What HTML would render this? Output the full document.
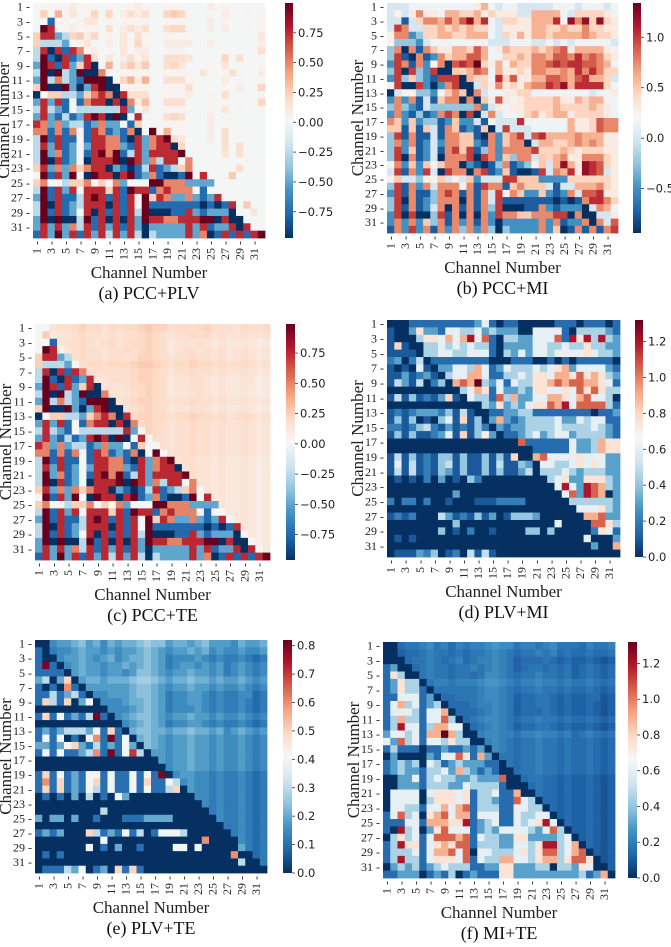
<!DOCTYPE html>
<html><head><meta charset="utf-8">
<style>
html,body{margin:0;padding:0;background:#fff;}
svg{display:block;}
.tk{font-family:"Liberation Serif",serif;font-size:12px;fill:#222;}
.cb{font-family:"DejaVu Sans","Liberation Sans",sans-serif;font-size:11.5px;fill:#222;}
.ttl{font-family:"Liberation Serif",serif;font-size:17px;fill:#222;}
.cap{font-family:"Liberation Serif",serif;font-size:18px;fill:#111;}
</style></head>
<body>
<svg id="fig" width="671" height="947" viewBox="0 0 671 947" xmlns="http://www.w3.org/2000/svg">
<defs>
<linearGradient id="rdbu" x1="0" y1="1" x2="0" y2="0">
<stop offset="0" stop-color="#053061"/><stop offset="0.1" stop-color="#2166ac"/><stop offset="0.2" stop-color="#4393c3"/><stop offset="0.3" stop-color="#92c5de"/><stop offset="0.4" stop-color="#d1e5f0"/><stop offset="0.5" stop-color="#f7f7f7"/><stop offset="0.6" stop-color="#fddbc7"/><stop offset="0.7" stop-color="#f4a582"/><stop offset="0.8" stop-color="#d6604d"/><stop offset="0.9" stop-color="#b2182b"/><stop offset="1" stop-color="#67001f"/>
</linearGradient>
</defs>
</svg>
<script>
// PCC lower triangle (digit d -> (d-4)/4), rows 1..32, columns j<=i used
const pccRows = [
"4","45","441","4874","57723","533324","3707176","38107127","287172570","3808328006",
"28363218880","580082027800","0455332567607","27271416770706","373214333333724","2721312787080474",
"76262331262241544","661616417612160484","3817114177661072678","37271242776621726770","382612417868137277778","3807124077780872637746",
"57262656770210137123564","481728408770781261001847","5644355645462444886662222","38172747775718771676664144","281711378717174857622621274","3807123777071748111111101017",
"38171247071717380001172122204","280800381707072877667778807004","2727263717271720222227271227074","17282717273727303222272601717178"];
// PLV lower triangle (digit d -> d*0.1)
const plvRows = [
"0","10","100","1810","11110","230250","1010610","11312310","153150240","0000000000",
"15141213810","000000000000","1212333241510","14140104618140","221245213121420","1414112361814730",
"00000000000000000","000000000000000000","1514121441411414180","16151214514114151143","151512143141141411350","0101020301042000000000",
"00000000000000000000000","000000000300000000000000","2022020010001112222000000","00000000000000000000000000","121200053121413014443000000","0000000004000000000000060000",
"00000004010200100004404000002","010100000000000000000000000600","0000000000000000000000000000300","01113240120515100000000000000000"];
// MI upper triangle (digit d -> d*0.15), columns j>i used
const miRows = [
"00011111111124101100000111011101","00025221443342322200444410333321","00003554646847103322444718583832","00000334343433102222443343353322",
"00000334433444103242443444454332","00000011111111000111001010111110","00000002244364124333434562444421","00000000344664113343554665756532",
"00000000067693241433556767766541","00000000003465142232554454757533","00000000000433173622446654674430","00000000000003252324557684777731",
"00000000000000112233111111110112","00000000000000262123333422434411","00000000000000021223333433334321","00000000000000001123423442333321",
"00000000000000000071111114223655","00000000000000000000111114223655","00000000000000000000674444544422","00000000000000000000044334545422",
"00000000000000000000033343233322","00000000000000000000003452255532","00000000000000000000000484287632","00000000000000000000000047287602",
"00000000000000000000000003333332","00000000000000000000000000444532","00000000000000000000000000066722","00000000000000000000000000007753",
"00000000000000000000000000000541","00000000000000000000000000000002","00000000000000000000000000000006","00000000000000000000000000000000"];
// TE upper triangle (digit d -> d*0.03)
const teRows = [
"00566786757677898867767866657667","00455676656566787656676756556556","00056676567567787645556545445434","00005676656676787645665656456545",
"00000676656656887656676656456545","00000067767778998767787767667656","00000006666667887656676656556545","00000000556667887645566545445534",
"00000000055567787645566545445434","00000000005556787645556545445434","00000000000567887656676656556545","00000000000056787645566545445434",
"00000000000007887767787767567656","00000000000000787656676656556545","00000000000000087656676656556545","00000000000000006656676656556545",
"00000000000000000656676656556545","00000000000000000056676656556545","00000000000000000005665545445434","00000000000000000000565545445434",
"00000000000000000000065545445434","00000000000000000000005545445434","00000000000000000000000545445434","00000000000000000000000045445434",
"00000000000000000000000005445434","00000000000000000000000000445434","00000000000000000000000000045434","00000000000000000000000000005434",
"00000000000000000000000000000434","00000000000000000000000000000034","00000000000000000000000000000004","00000000000000000000000000000000"];
const captions = ["(a) PCC+PLV","(b) PCC+MI","(c) PCC+TE","(d) PLV+MI","(e) PLV+TE","(f) MI+TE"];
const ticksAC = [0.75,0.5,0.25,0,-0.25,-0.5,-0.75];
const ticksB = [1.0,0.5,0.0,-0.5];
const ticksDF = [1.2,1.0,0.8,0.6,0.4,0.2,0.0];
const ticksE = [0.8,0.7,0.6,0.5,0.4,0.3,0.2,0.1,0.0];

const N=32;
function dig(rows,i,j){const s=rows[i]||"";const c=s[j];return c===undefined?0:parseInt(c,10);}
const PCC=(i,j)=>(dig(pccRows,i,j)-4)/4;
const PLV=(i,j)=>dig(plvRows,i,j)*0.1;
const MI=(i,j)=>dig(miRows,i,j)*0.15;
const TE=(i,j)=>dig(teRows,i,j)*0.03;

const stops=["#053061","#2166ac","#4393c3","#92c5de","#d1e5f0","#f7f7f7","#fddbc7","#f4a582","#d6604d","#b2182b","#67001f"].map(h=>[parseInt(h.slice(1,3),16),parseInt(h.slice(3,5),16),parseInt(h.slice(5,7),16)]);
function cmap(t){t=Math.max(0,Math.min(1,t));const p=t*10;const k=Math.min(9,Math.floor(p));const f=p-k;const a=stops[k],b=stops[k+1];
return "rgb("+a.map((v,q)=>Math.round(v+(b[q]-v)*f)).join(",")+")";}

function plvUpper(){return (i,j)=>PLV(j,i)*0.45;}
const panels=[
 {hx:33,hy:3,hw:232,hh:235,cx:285,cw:8,vmin:-0.97,vmax:1.0,ticks:ticksAC,lo:PCC,up:plvUpper(),dec:2},
 {hx:387,hy:3,hw:231,hh:230,cx:633,cw:8,vmin:-0.94,vmax:1.34,ticks:ticksB,lo:PCC,up:MI,dec:1},
 {hx:35,hy:324,hw:235,hh:236,cx:286,cw:9,vmin:-0.96,vmax:0.99,ticks:ticksAC,lo:PCC,up:TE,dec:2},
 {hx:387,hy:320,hw:233,hh:237,cx:635,cw:8,vmin:0,vmax:1.32,ticks:ticksDF,lo:PLV,up:MI,dec:1},
 {hx:35,hy:640,hw:232,hh:233,cx:283,cw:9,vmin:0,vmax:0.82,ticks:ticksE,lo:PLV,up:TE,dec:1},
 {hx:383,hy:642,hw:232,hh:236,cx:628,cw:9,vmin:0,vmax:1.32,ticks:ticksDF,lo:(i,j)=>MI(j,i),up:TE,dec:1}
];

const NS="http://www.w3.org/2000/svg";
const svg=document.getElementById("fig");
function mk(tag,attrs,parent){const e=document.createElementNS(NS,tag);for(const k in attrs)e.setAttribute(k,attrs[k]);(parent||svg).appendChild(e);return e;}
function fmt(v,d){const s=Math.abs(v).toFixed(d);return (v<0?"\u2212":"")+s;}

panels.forEach((P,pi)=>{
 const g=mk("g",{});
 
 
 const cw=P.hw/N,ch=P.hh/N;
 const xs=j=>P.hx+j*cw, ys=i=>P.hy+i*ch;
 const tnorm=v=>(v-P.vmin)/(P.vmax-P.vmin);
 for(let i=0;i<N;i++)for(let j=0;j<N;j++){
   const v=(j<=i)?P.lo(i,j):P.up(i,j);
   const r=mk("rect",{x:xs(j).toFixed(2),y:ys(i).toFixed(2),width:(cw+0.4).toFixed(2),height:(ch+0.4).toFixed(2),fill:cmap(tnorm(v))},g);
   
   
 }
 for(let i=0;i<N;i+=2){
   const t=mk("text",{x:P.hx-3,y:(ys(i)+ch/2+4).toFixed(1),"text-anchor":"end",class:"tk"},g);
   t.textContent=(i+1)+" -";
   
   
 }
 for(let j=0;j<N;j+=2){
   const x=xs(j)+cw/2, y=P.hy+P.hh+3;
   const t=mk("text",{x:0,y:0,"text-anchor":"end",class:"tk",transform:"translate("+(x+4).toFixed(1)+","+y+") rotate(-90)"},g);
   t.textContent=(j+1)+" -";
   
   
 }
 const cxm=P.hx+P.hw/2;
 const yt=mk("text",{x:0,y:0,"text-anchor":"middle",class:"ttl",transform:"translate("+(P.hx-24)+","+(P.hy+P.hh/2)+") rotate(-90)"},g);
 yt.textContent="Channel Number";
 
 
 const xt=mk("text",{x:cxm,y:P.hy+P.hh+40,"text-anchor":"middle",class:"ttl"},g);
 xt.textContent="Channel Number";
 
 
 const cp=mk("text",{x:cxm,y:P.hy+P.hh+61,"text-anchor":"middle",class:"cap"},g);
 cp.textContent=captions[pi];
 
 
 const cb=mk("rect",{x:P.cx,y:P.hy,width:P.cw,height:P.hh,fill:"url(#rdbu)"},g);
 
 
 P.ticks.forEach(tv=>{
   const y=P.hy+P.hh*(1-tnorm(tv));
   mk("line",{x1:P.cx+P.cw,x2:P.cx+P.cw+3,y1:y,y2:y,stroke:"#333","stroke-width":0.8},g);
   const t=mk("text",{x:P.cx+P.cw+5,y:(y+4).toFixed(1),class:"cb"},g);
   t.textContent=fmt(tv,P.dec);
   
   
 });
});
</script>
</body></html>
